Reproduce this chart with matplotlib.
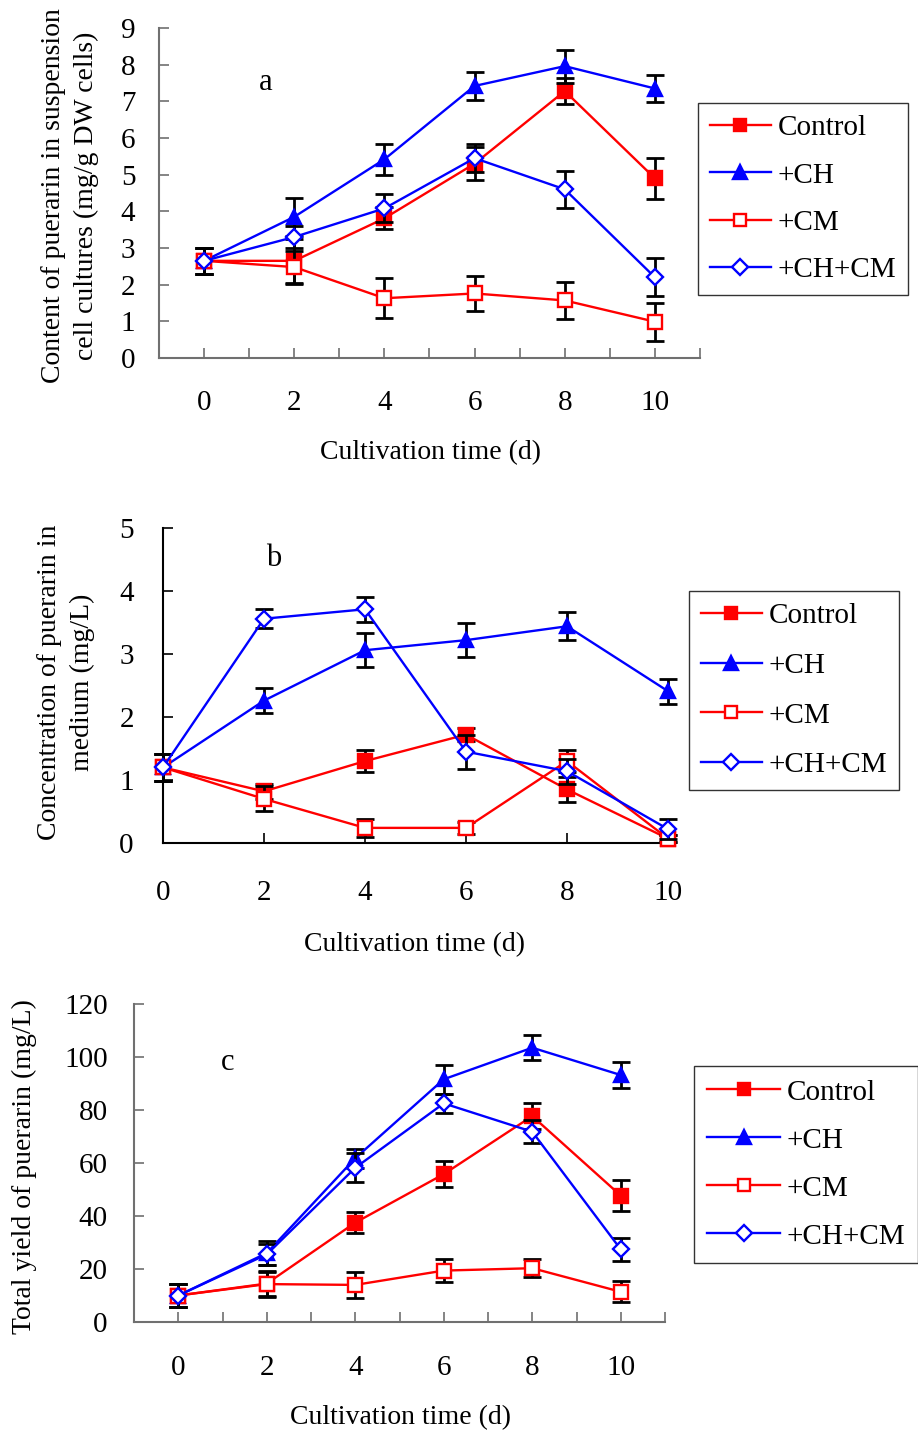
import numpy as np
import matplotlib
matplotlib.use("Agg")
import matplotlib.pyplot as plt

plt.rcParams['font.family'] = ['Liberation Serif', 'DejaVu Serif']

# ---------------- data ----------------
days = ["0", "2", "4", "6", "8", "10"]
days_num = [0, 2, 4, 6, 8, 10]
series_names = ["Control", "+CH", "+CM", "+CH+CM"]

# panel a: content in cells (mg/g DW)
a_control = [2.65, 2.65, 3.81, 5.30, 7.28, 4.90]
a_control_err = [0.35, 0.60, 0.30, 0.45, 0.35, 0.55]
a_ch = [2.65, 3.85, 5.42, 7.42, 7.96, 7.35]
a_ch_err = [0.35, 0.52, 0.42, 0.38, 0.45, 0.38]
a_cm = [2.65, 2.48, 1.63, 1.76, 1.57, 0.99]
a_cm_err = [0.35, 0.45, 0.55, 0.48, 0.50, 0.52]
a_chcm = [2.65, 3.30, 4.08, 5.45, 4.60, 2.20]
a_chcm_err = [0.35, 0.30, 0.38, 0.38, 0.50, 0.52]

# panel b: concentration in medium (mg/L)
b_control = [1.20, 0.82, 1.30, 1.72, 0.85, 0.07]
b_control_err = [0.22, 0.12, 0.18, 0.10, 0.20, 0.05]
b_ch = [1.20, 2.26, 3.06, 3.22, 3.44, 2.41]
b_ch_err = [0.22, 0.20, 0.27, 0.27, 0.22, 0.20]
b_cm = [1.20, 0.70, 0.24, 0.24, 1.30, 0.07]
b_cm_err = [0.22, 0.20, 0.14, 0.10, 0.17, 0.05]
b_chcm = [1.20, 3.56, 3.71, 1.45, 1.14, 0.22]
b_chcm_err = [0.22, 0.15, 0.20, 0.27, 0.20, 0.16]

# panel c: total yield (mg/L)
c_control = [10.0, 14.5, 37.5, 55.8, 77.7, 47.7]
c_control_err = [4.2, 4.5, 4.0, 5.0, 5.0, 6.0]
c_ch = [10.0, 26.0, 61.8, 91.6, 103.5, 93.2]
c_ch_err = [4.2, 4.5, 3.5, 5.5, 4.8, 5.0]
c_cm = [10.0, 14.3, 14.0, 19.4, 20.3, 11.4]
c_cm_err = [4.2, 5.0, 5.0, 4.3, 3.5, 4.0]
c_chcm = [10.0, 25.5, 58.2, 82.5, 71.8, 27.4]
c_chcm_err = [4.2, 4.0, 5.5, 3.5, 4.4, 4.4]

# ---------------- styles ----------------
RED = '#FF0000'
BLUE = '#0000FF'
styles = [
    dict(color=RED, marker='s', mfc=RED, mec=RED, ms=9.5),
    dict(color=BLUE, marker='^', mfc=BLUE, mec=BLUE, ms=10.5),
    dict(color=RED, marker='s', mfc='white', mec=RED, ms=9.5),
    dict(color=BLUE, marker='D', mfc='white', mec=BLUE, ms=8.5),
]

W, H = 918, 1434
fig = plt.figure(figsize=(W / 100, H / 100), dpi=100)
FS = 21      # tick labels, legend
LFS = 20     # axis titles


def px_axes(l, r, t, b):
    return fig.add_axes([l / W, 1 - b / H, (r - l) / W, (b - t) / H])


def draw(ax, x, ys, errs):
    handles = []
    for i, (y, e, st) in enumerate(zip(ys, errs, styles)):
        ax.errorbar(x, y, yerr=e, fmt='none', ecolor='black', elinewidth=2,
                    capsize=6.5, capthick=2, zorder=2 + 2 * i, clip_on=False)
        h, = ax.plot(x, y, color=st['color'], lw=1.7, marker=st['marker'],
                     mfc=st['mfc'], mec=st['mec'], mew=1.7, ms=st['ms'],
                     zorder=3 + 2 * i, clip_on=False, label=series_names[i])
        handles.append(h)
    return handles


def style_axes(ax, spine_color, ypad, xpad):
    for s in ['top', 'right']:
        ax.spines[s].set_visible(False)
    for s in ['left', 'bottom']:
        ax.spines[s].set_color(spine_color)
        ax.spines[s].set_linewidth(1.5)
    ax.tick_params(axis='y', direction='in', length=7, width=1.2,
                   color=spine_color, labelsize=FS, pad=ypad)
    ax.tick_params(axis='x', which='both', direction='in', length=7, width=1.2,
                   color=spine_color, labelsize=FS, pad=xpad)


def add_legend(ax, handles, lx, ty, lsp, hl=2.1, bp=0.4):
    leg = ax.legend(handles=handles, loc='upper left',
                    bbox_to_anchor=(lx / W, 1 - ty / H),
                    bbox_transform=fig.transFigure, borderaxespad=0,
                    fontsize=FS, frameon=True, fancybox=False,
                    edgecolor='black', handlelength=hl, handletextpad=0.22,
                    labelspacing=lsp, borderpad=bp, markerscale=0.9)
    leg.get_frame().set_linewidth(1.0)
    return leg


def category_x(ax):
    ax.set_xlim(-0.5, 5.5)
    ax.set_xticks(np.arange(6) + 0.5)
    ax.set_xticklabels([''] * 6)
    ax.set_xticks(np.arange(6), minor=True)
    ax.set_xticklabels(days, minor=True)
    ax.tick_params(axis='x', which='minor', length=0)


# ---------------- panel a ----------------
axa = px_axes(159, 700, 28, 358)
xi = np.arange(6)
ha = draw(axa, xi, [a_control, a_ch, a_cm, a_chcm],
          [a_control_err, a_ch_err, a_cm_err, a_chcm_err])
axa.set_ylim(0, 9)
axa.set_yticks(range(0, 10))
category_x(axa)
style_axes(axa, '#707070', 17, 23)
add_legend(axa, ha, 698, 103, 0.72)
fig.text(266 / W, 1 - 82 / H, 'a', fontsize=FS + 1, ha='center', va='center')
fig.text(70 / W, 1 - 196 / H,
         'Content of puerarin in suspension\ncell cultures (mg/g DW cells)',
         rotation=90, ha='center', va='center', multialignment='center',
         fontsize=LFS, linespacing=1.4)
fig.text(430 / W, 1 - 453 / H, 'Cultivation time (d)', fontsize=LFS,
         ha='center', va='center')

# ---------------- panel b ----------------
axb = px_axes(163, 668, 528, 843)
hb = draw(axb, days_num, [b_control, b_ch, b_cm, b_chcm],
          [b_control_err, b_ch_err, b_cm_err, b_chcm_err])
axb.set_ylim(0, 5)
axb.set_yticks(range(0, 6))
axb.set_xlim(0, 10)
axb.set_xticks(days_num)
axb.set_xticklabels(days)
style_axes(axb, 'black', 21, 27)
add_legend(axb, hb, 689, 591, 0.8)
fig.text(274 / W, 1 - 558 / H, 'b', fontsize=FS + 1, ha='center', va='center')
fig.text(66 / W, 1 - 682 / H,
         'Concentration of puerarin in\nmedium (mg/L)',
         rotation=90, ha='center', va='center', multialignment='center',
         fontsize=LFS, linespacing=1.4)
fig.text(415 / W, 1 - 945 / H, 'Cultivation time (d)', fontsize=LFS,
         ha='center', va='center')

# ---------------- panel c ----------------
axc = px_axes(134, 665, 1004, 1322)
hc = draw(axc, xi, [c_control, c_ch, c_cm, c_chcm],
          [c_control_err, c_ch_err, c_cm_err, c_chcm_err])
axc.set_ylim(0, 120)
axc.set_yticks(range(0, 121, 20))
category_x(axc)
style_axes(axc, '#707070', 19, 24)
add_legend(axc, hc, 694, 1066, 0.74, hl=2.5, bp=0.45)
fig.text(228 / W, 1 - 1062 / H, 'c', fontsize=FS + 1, ha='center', va='center')
fig.text(24 / W, 1 - 1167 / H, 'Total yield of puerarin (mg/L)',
         rotation=90, ha='center', va='center', fontsize=LFS)
fig.text(400 / W, 1 - 1418 / H, 'Cultivation time (d)', fontsize=LFS,
         ha='center', va='center')

fig.savefig('out.png', dpi=100)
